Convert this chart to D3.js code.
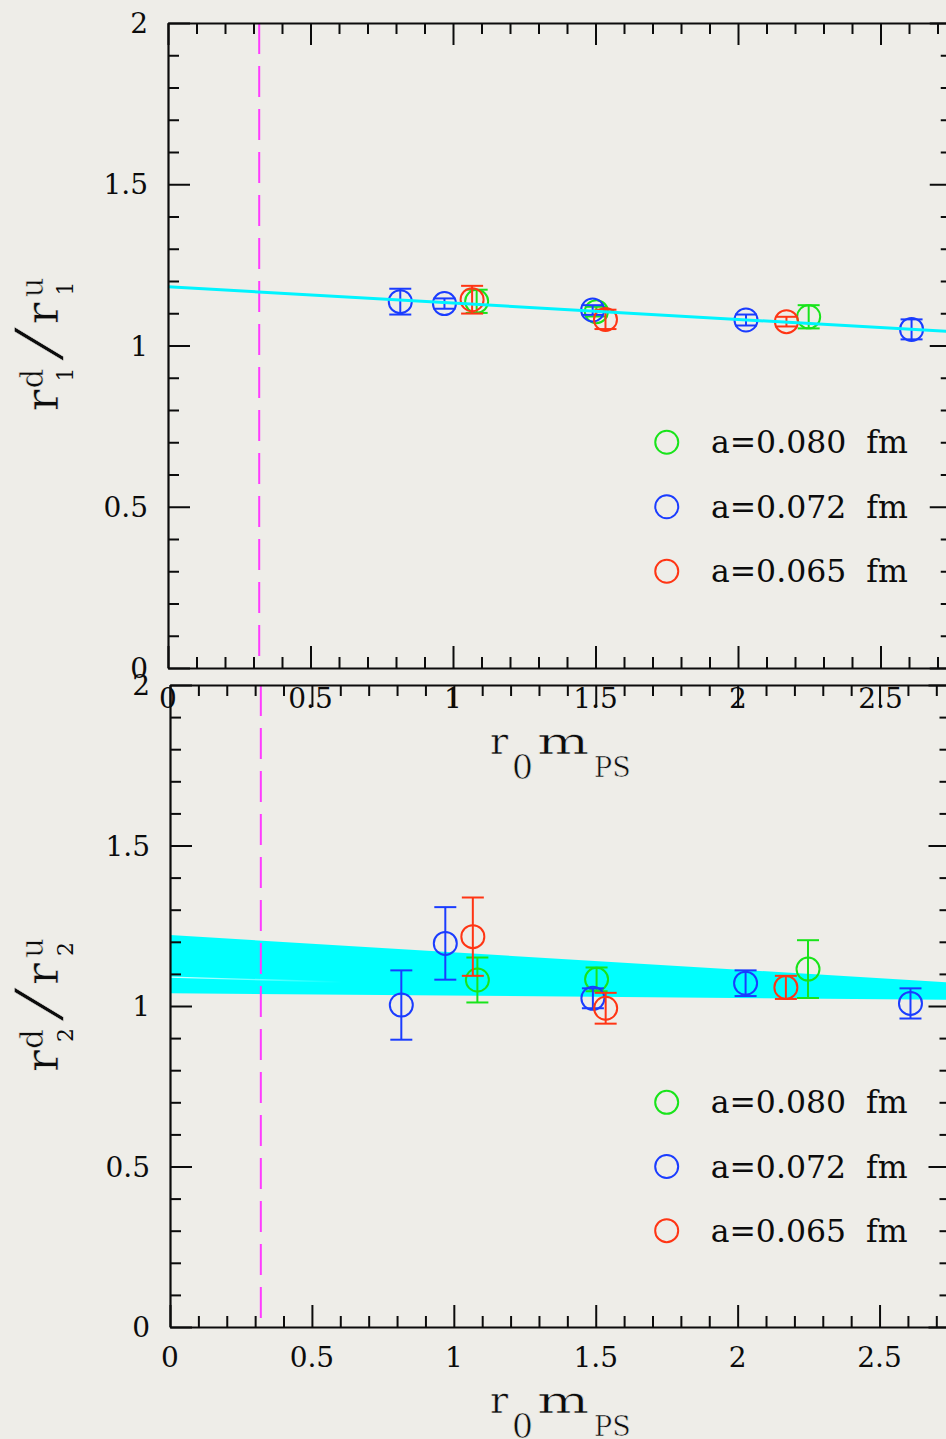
<!DOCTYPE html>
<html>
<head>
<meta charset="utf-8">
<script src="https://cdn.jsdelivr.net/npm/d3@7"></script>
<style>
  html, body { margin: 0; padding: 0; background: #eeede8; overflow: hidden; }
  svg { display: block; }
  text { font-family: "DejaVu Serif", serif; fill: #0c0c0c; }
  /* thin the glyph strokes of the large titles a little */
  text.thin { stroke: #eeede8; stroke-width: 0.6px; paint-order: fill; }
</style>
</head>
<body>
<svg id="chart" width="946" height="1439"></svg>
<script>
// ---- axis ticks -------------------------------------------------------
const xTickValues = [0, 0.5, 1, 1.5, 2, 2.5];
const xTickLabels = ["0", "0.5", "1", "1.5", "2", "2.5"];
const yTickValues = [0, 0.5, 1, 1.5, 2];
const yTickLabels = ["0", "0.5", "1", "1.5", "2"];

// ---- ensembles (lattice spacings) ------------------------------------
const seriesNames  = ["a=0.080  fm", "a=0.072  fm", "a=0.065  fm"];
const seriesColors = ["#18e41a", "#1a3cff", "#ff3514"];

// r0 * m_PS for each ensemble
const xGreen = [1.083, 1.503, 2.248];
const xBlue  = [0.815, 0.970, 1.490, 2.028, 2.609];
const xRed   = [1.067, 1.535, 2.170];

// ratio r1^d / r1^u
const r1Green    = [1.137, 1.105, 1.089];
const r1GreenErr = [0.036, 0.015, 0.036];
const r1Blue     = [1.136, 1.130, 1.110, 1.079, 1.050];
const r1BlueErr  = [0.040, 0.016, 0.015, 0.017, 0.031];
const r1Red      = [1.142, 1.081, 1.074];
const r1RedErr   = [0.043, 0.030, 0.015];

// ratio r2^d / r2^u
const r2Green    = [1.081, 1.083, 1.115];
const r2GreenErr = [0.070, 0.037, 0.090];
const r2Blue     = [1.003, 1.195, 1.024, 1.071, 1.008];
const r2BlueErr  = [0.108, 0.113, 0.031, 0.040, 0.047];
const r2Red      = [1.216, 0.993, 1.058];
const r2RedErr   = [0.122, 0.048, 0.036];

// chiral fits
const fitX        = [0, 2.75];
const fitR1       = [1.182, 1.043];
const bandR2Upper = [1.221, 1.073];
const bandR2Lower = [1.040, 1.019];
const bandSeamLeft = 1.090;

// physical pion mass
const physicalPoint = 0.32;

// legend placement (data units)
const legendX = 1.75, legendTextX = 1.905;
const legendY = [0.7, 0.5, 0.3];

// ---------------------------------------------------------------------
const svg = d3.select("#chart");
svg.append("rect").attr("width", 946).attr("height", 1439).attr("fill", "#eeede8");

const defs = svg.append("defs");
const seamGrad = defs.append("linearGradient").attr("id", "seamFade")
  .attr("x1", "0").attr("x2", "1").attr("y1", "0").attr("y2", "0");
seamGrad.append("stop").attr("offset", "0").attr("stop-color", "#fff").attr("stop-opacity", 0.85);
seamGrad.append("stop").attr("offset", "0.22").attr("stop-color", "#fff").attr("stop-opacity", 0.0);

const INK = "#0c0c0c";

function makeSeries(xs, ys, es) {
  return xs.map((x, i) => ({ x, y: ys[i], e: es[i] }));
}

const panels = [
  {
    k: "1", x0: 168, x1: 951.75, yTop: 23, yBot: 668,
    series: [
      makeSeries(xGreen, r1Green, r1GreenErr),
      makeSeries(xBlue, r1Blue, r1BlueErr),
      makeSeries(xRed, r1Red, r1RedErr)
    ],
    fit: "line"
  },
  {
    k: "2", x0: 170, x1: 950.5, yTop: 685, yBot: 1327,
    series: [
      makeSeries(xGreen, r2Green, r2GreenErr),
      makeSeries(xBlue, r2Blue, r2BlueErr),
      makeSeries(xRed, r2Red, r2RedErr)
    ],
    fit: "band"
  }
];

const minorTicks = d3.range(0, 28).map(i => i / 10).filter(v => Math.abs(v * 2 - Math.round(v * 2)) > 1e-6);
const minorTicksY = d3.range(0, 21).map(i => i / 10).filter(v => Math.abs(v * 2 - Math.round(v * 2)) > 1e-6);

function styleAxis(sel) {
  sel.selectAll("path.domain").attr("stroke", INK).attr("stroke-width", 2.2);
  sel.selectAll(".tick line").attr("stroke", INK).attr("stroke-width", 2);
  sel.selectAll(".tick text").remove();
}

function drawPanel(p) {
  const x = d3.scaleLinear().domain([0, 2.75]).range([p.x0, p.x1]);
  const y = d3.scaleLinear().domain([0, 2]).range([p.yBot, p.yTop]);
  const g = svg.append("g");

  // fit band (lower panel)
  if (p.fit === "band") {
    const pts = fitX.map((v, i) => [x(v), y(bandR2Upper[i])])
      .concat(fitX.slice().reverse().map((v, i) => [x(v), y(bandR2Lower[fitX.length - 1 - i])]));
    g.append("path").attr("d", "M" + pts.join("L") + "Z").attr("fill", "#00ffff");
    g.append("line")
      .attr("x1", x(fitX[0])).attr("y1", y(bandSeamLeft))
      .attr("x2", x(fitX[1])).attr("y2", y(bandR2Lower[1]))
      .attr("stroke", "url(#seamFade)").attr("stroke-width", 1.4);
  }

  // physical point
  g.append("line")
    .attr("x1", x(physicalPoint)).attr("x2", x(physicalPoint))
    .attr("y1", p.yTop).attr("y2", p.yBot)
    .attr("stroke", "#ff3cff").attr("stroke-width", 2)
    .attr("stroke-dasharray", "31,12");

  // data points with error bars
  const capW = 11, rad = 11.5;
  p.series.forEach((s, si) => {
    const col = seriesColors[si];
    const sg = g.append("g").attr("stroke", col).attr("stroke-width", 2).attr("fill", "none");
    s.forEach(d => {
      const cx = x(d.x), yl = y(d.y - d.e), yh = y(d.y + d.e);
      sg.append("line").attr("x1", cx).attr("x2", cx).attr("y1", yl).attr("y2", yh);
      sg.append("line").attr("x1", cx - capW).attr("x2", cx + capW).attr("y1", yl).attr("y2", yl);
      sg.append("line").attr("x1", cx - capW).attr("x2", cx + capW).attr("y1", yh).attr("y2", yh);
      sg.append("circle").attr("cx", cx).attr("cy", y(d.y)).attr("r", rad);
    });
  });

  // fit line (upper panel)
  if (p.fit === "line") {
    g.append("path")
      .attr("d", d3.line().x((v) => x(v)).y((v, i) => y(fitR1[i]))(fitX))
      .attr("stroke", "#00f4ff").attr("stroke-width", 3).attr("fill", "none");
  }

  // legend
  seriesNames.forEach((name, i) => {
    g.append("circle").attr("cx", x(legendX)).attr("cy", y(legendY[i])).attr("r", rad)
      .attr("fill", "none").attr("stroke", seriesColors[i]).attr("stroke-width", 2);
    g.append("text").attr("x", x(legendTextX)).attr("y", y(legendY[i]) + 11)
      .attr("font-size", 31.5).style("white-space", "pre").text(name);
  });

  // axes: ticks on all four sides pointing inward
  const axes = [
    { f: d3.axisBottom(x), t: `translate(0,${p.yBot})`, minor: minorTicks, major: xTickValues },
    { f: d3.axisTop(x),    t: `translate(0,${p.yTop})`, minor: minorTicks, major: xTickValues },
    { f: d3.axisLeft(y),   t: `translate(${p.x0},0)`,   minor: minorTicksY, major: yTickValues },
    { f: d3.axisRight(y),  t: `translate(${p.x1},0)`,   minor: minorTicksY, major: yTickValues }
  ];
  axes.forEach(a => {
    const ag = g.append("g").attr("transform", a.t);
    ag.call(a.f.tickValues(a.minor).tickSize(-11).tickSizeOuter(0).tickFormat(""));
    styleAxis(ag);
    const mg = g.append("g").attr("transform", a.t);
    mg.call(a.f.tickValues(a.major).tickSize(-22).tickSizeOuter(0).tickFormat(""));
    mg.select("path.domain").remove();
    styleAxis(mg);
  });

  // tick labels
  xTickValues.forEach((v, i) => {
    g.append("text").attr("x", x(v)).attr("y", p.yBot + 40).attr("text-anchor", "middle")
      .attr("font-size", 28).text(xTickLabels[i]);
  });
  yTickValues.forEach((v, i) => {
    g.append("text").attr("x", p.x0 - 20).attr("y", y(v) + 10).attr("text-anchor", "end")
      .attr("font-size", 28).text(yTickLabels[i]);
  });

  // x title: r_0 m_PS
  const tb = p.yBot + 86;
  g.append("text").attr("class", "thin").attr("x", 490).attr("y", tb).attr("font-size", 38).text("r");
  g.append("text").attr("class", "thin").attr("x", 512).attr("y", tb + 25).attr("font-size", 33).text("0");
  g.append("text").attr("class", "thin").attr("transform", `translate(537,${tb}) scale(1.45,1)`)
    .attr("font-size", 38).text("m");
  g.append("text").attr("class", "thin").attr("x", 594).attr("y", tb + 23).attr("font-size", 27).text("PS");

  // y title: r_k^d / r_k^u
  const cy = y(1);
  const yl = g.append("g").attr("transform", `translate(58,${cy}) rotate(-90)`);
  yl.append("text").attr("class", "thin").attr("x", -66).attr("y", 0).attr("font-size", 46).text("r");
  yl.append("text").attr("class", "thin").attr("x", -43).attr("y", -15).attr("font-size", 31).text("d");
  yl.append("text").attr("x", -36).attr("y", 15).attr("font-size", 22).text(p.k);
  yl.append("text").attr("class", "thin").attr("transform", "translate(-14,0) skewX(-16)")
    .attr("font-size", 60).text("/");
  yl.append("text").attr("class", "thin").attr("x", 21).attr("y", 0).attr("font-size", 46).text("r");
  yl.append("text").attr("class", "thin").attr("x", 48).attr("y", -15).attr("font-size", 31).text("u");
  yl.append("text").attr("x", 50).attr("y", 15).attr("font-size", 22).text(p.k);
}

panels.forEach(drawPanel);
</script>
</body>
</html>
